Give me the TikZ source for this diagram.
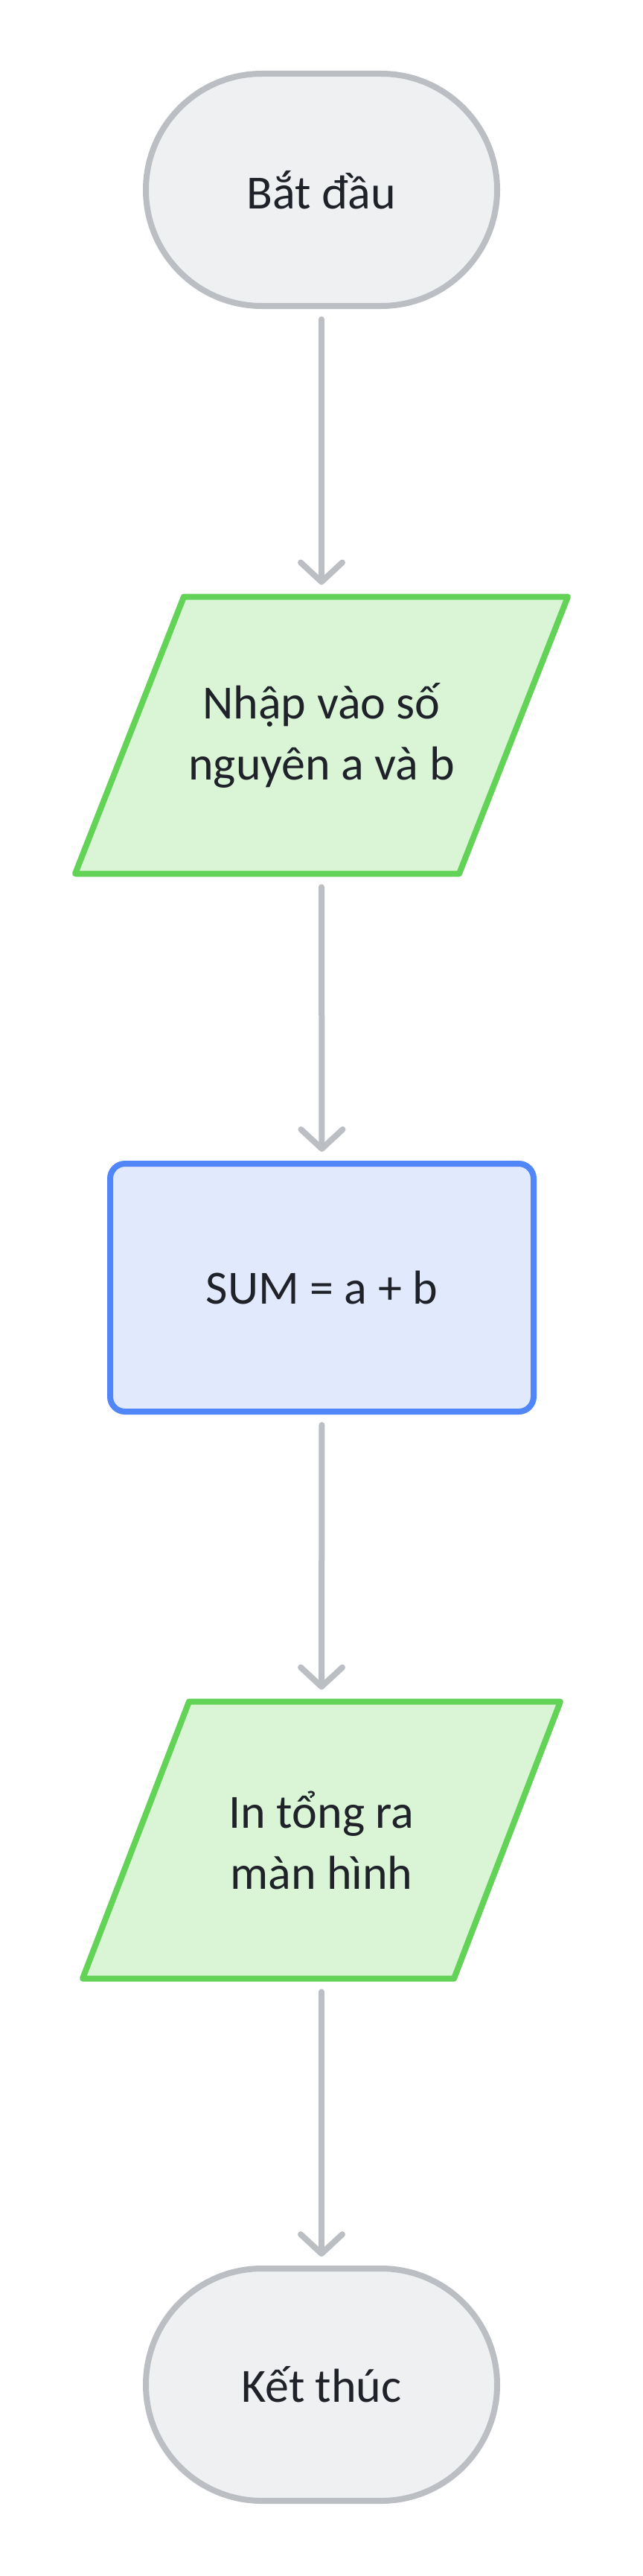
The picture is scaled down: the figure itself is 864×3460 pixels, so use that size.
\documentclass[tikz,border=0pt]{standalone}
\usepackage{fontspec}
\setmainfont{Carlito}
\usetikzlibrary{arrows.meta,backgrounds,calc}
\definecolor{txt}{HTML}{1F2329}
\definecolor{grayfill}{HTML}{EFF0F2}
\definecolor{graydraw}{HTML}{BBBEC3}
\definecolor{greenfill}{HTML}{D9F5D6}
\definecolor{greendraw}{HTML}{62D356}
\definecolor{bluefill}{HTML}{E1E9FD}
\definecolor{bluedraw}{HTML}{5086F8}
\definecolor{arrowc}{HTML}{BBBFC4}
\tikzset{
  lbl/.style={font=\fontsize{64}{82}\selectfont, text=txt, align=center, inner sep=0pt, outer sep=0pt},
  terminal/.style={lbl, draw=graydraw, fill=grayfill, line width=8pt, minimum width=472pt, minimum height=312pt, rounded corners=156pt},
  procbox/.style={lbl, draw=bluedraw, fill=bluefill, line width=8pt, minimum width=569pt, minimum height=333pt, rounded corners=20pt},
  iobox/.style={lbl, minimum width=#1, minimum height=372pt},
  ioshape/.style={draw=greendraw, fill=greenfill, line width=8pt, line join=round},
  conn/.style={draw=arrowc, line width=8pt, line cap=round, shorten <=18pt, shorten >=16pt,
    -{Straight Barb[length=26pt, width=56pt, round]}}
}
\begin{document}
\begin{tikzpicture}[x=1pt, y=-1pt]
\useasboundingbox (0,0) rectangle (864,3460);

\node[terminal] (start) at (432,255) {Bắt đầu};
\node[iobox=662pt] (in) at (432,987.5) {Nhập vào số\\nguyên a và b};
\node[procbox] (sum) at (432.5,1729.5) {SUM = a + b};
\node[iobox=642pt] (out) at (432,2471.5) {In tổng ra\\màn hình};
\node[terminal] (end) at (432,3203) {Kết thúc};

\begin{scope}[on background layer]
  \fill[white] (0,0) rectangle (864,3460);
  \path[ioshape] ($(in.north west)+(146,0)$) -- (in.north east) -- ($(in.south east)-(146,0)$) -- (in.south west) -- cycle;
  \path[ioshape] ($(out.north west)+(143,0)$) -- (out.north east) -- ($(out.south east)-(143,0)$) -- (out.south west) -- cycle;
\end{scope}

\draw[conn] (start.south) -- (in.north);
\draw[conn] (in.south) -- (sum.north);
\draw[conn] (sum.south) -- (out.north);
\draw[conn] (out.south) -- (end.north);
\end{tikzpicture}
\end{document}
